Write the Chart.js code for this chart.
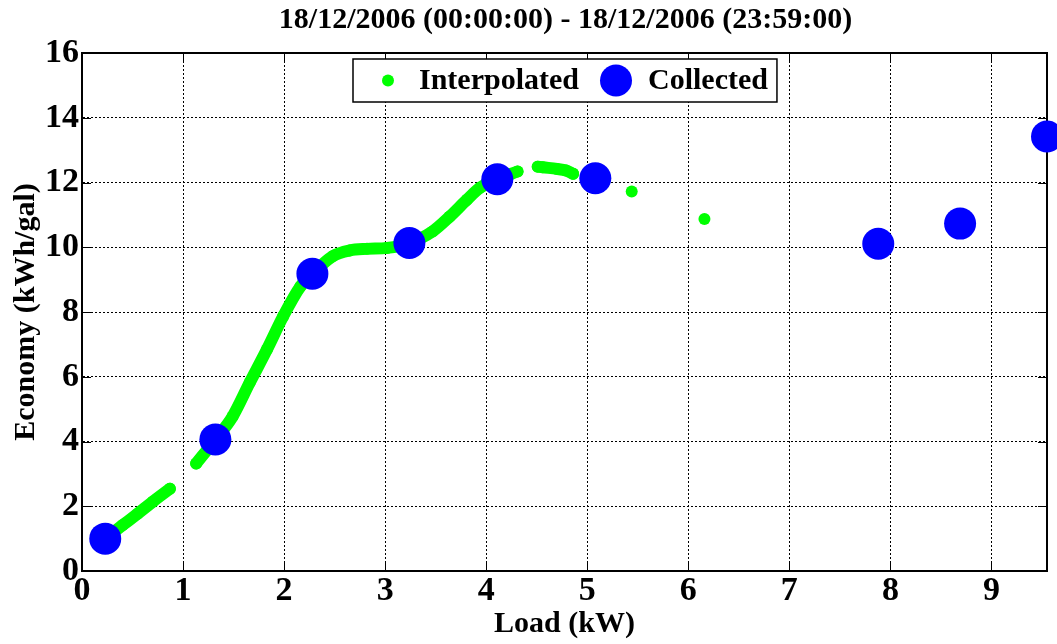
<!DOCTYPE html>
<html>
<head>
<meta charset="utf-8">
<title>Economy vs Load</title>
<script src="https://cdn.jsdelivr.net/npm/chart.js@4/dist/chart.umd.min.js"></script>
<style>
  html, body { margin:0; padding:0; background:#fff; }
  #wrap { width:1057px; height:644px; }
</style>
</head>
<body>
<div id="wrap"><canvas id="chart" width="1057" height="644"></canvas></div>
<script>
// Generator fuel economy against load, one day of data
const chartTitle = '18/12/2006 (00:00:00) - 18/12/2006 (23:59:00)';
const xLabel = 'Load (kW)';
const yLabel = 'Economy (kWh/gal)';

// collected samples (kW, kWh/gal)
const collectedLoad    = [0.23, 1.32, 2.28, 3.24, 4.11, 5.08, 7.88, 8.69, 9.55];
const collectedEconomy = [1.00, 4.06, 9.18, 10.13, 12.10, 12.13, 10.11, 10.73, 13.42];

// interpolated curve; a null economy breaks the curve
const interpLoad    = [0.23, 0.40, 0.55, 0.70, 0.87, 1.00, 1.13, 1.32, 1.49, 1.66, 1.83, 1.99, 2.16, 2.28,
                       2.48, 2.65, 2.82, 3.02, 3.24, 3.47, 3.64, 3.81, 3.94, 4.11, 4.31, 4.41,
                       4.51, 4.56, 4.70, 4.79, 4.86, 5.20, 5.44, 5.80, 6.16];
const interpEconomy = [1.00, 1.41, 1.77, 2.14, 2.54, null, 3.32, 4.06, 4.77, 5.82, 6.84, 7.86, 8.78, 9.18,
                       9.72, 9.90, 9.95, 9.98, 10.13, 10.49, 10.95, 11.47, 11.84, 12.10, 12.34, null,
                       12.49, 12.47, 12.42, 12.37, 12.27, null, 11.72, null, 10.87];

const xMax = 9.55, xStep = 1;
const yMax = 16, yStep = 2;

const FONT = "'Liberation Serif', 'Times New Roman', serif";
const GREEN = '#00ff00', BLUE = '#0000ff';

function pts(xs, ys){ return xs.map((x,i)=>({x:x, y:ys[i]})); }

/* ---------- box, inward ticks, legend, title ---------- */
const matlabFrame = {
  id: 'matlabFrame',
  beforeDatasetsDraw(chart){
    const {ctx, chartArea:a, scales:{x, y}} = chart;
    ctx.save();
    ctx.strokeStyle = '#000';
    ctx.lineWidth = 2;
    ctx.beginPath();
    ctx.moveTo(a.left, a.top); ctx.lineTo(a.right, a.top); ctx.lineTo(a.right, a.bottom);
    ctx.stroke();
    ctx.lineWidth = 1;
    const tl = 9;
    ctx.beginPath();
    x.ticks.forEach(t=>{
      const px = Math.round(x.getPixelForValue(t.value)) + 0.5;
      ctx.moveTo(px, a.bottom); ctx.lineTo(px, a.bottom - tl);
      ctx.moveTo(px, a.top); ctx.lineTo(px, a.top + tl);
    });
    y.ticks.forEach(t=>{
      const py = Math.round(y.getPixelForValue(t.value)) + 0.5;
      ctx.moveTo(a.left, py); ctx.lineTo(a.left + tl, py);
      ctx.moveTo(a.right, py); ctx.lineTo(a.right - tl, py);
    });
    ctx.stroke();
    ctx.restore();
  },
  afterDatasetsDraw(chart){
    const {ctx, chartArea:a} = chart;
    const ds = chart.data.datasets;
    ctx.save();
    ctx.font = 'bold 30px ' + FONT;
    const w = 295 + ctx.measureText(ds[1].label).width + 9;
    const h = 43;
    const left = Math.round((a.left + a.right)/2 - w/2);
    const top = a.top + 6;
    const cy = top + h/2;
    ctx.fillStyle = '#fff';
    ctx.fillRect(left, top, w, h);
    ctx.strokeStyle = '#000';
    ctx.lineWidth = 1.5;
    ctx.strokeRect(left, top, w, h);
    // markers
    ctx.fillStyle = ds[0].backgroundColor;
    ctx.beginPath(); ctx.arc(left + 35, cy, ds[0].pointRadius, 0, Math.PI*2); ctx.fill();
    ctx.fillStyle = ds[1].backgroundColor;
    ctx.beginPath(); ctx.arc(left + 263, cy, ds[1].pointRadius, 0, Math.PI*2); ctx.fill();
    // labels
    ctx.fillStyle = '#000';
    ctx.textBaseline = 'middle';
    ctx.textAlign = 'left';
    ctx.fillText(ds[0].label, left + 66, cy + 1);
    ctx.fillText(ds[1].label, left + 295, cy + 1);
    ctx.restore();
  },
  afterDraw(chart){
    const {ctx, chartArea:a} = chart;
    ctx.save();
    ctx.font = 'bold 30px ' + FONT;
    ctx.fillStyle = '#000';
    ctx.textAlign = 'center';
    ctx.textBaseline = 'middle';
    ctx.fillText(chartTitle, (a.left + a.right)/2 + 1, 20);
    ctx.restore();
  }
};

function axisOpts(max, step, title, titlePad){
  return {
    type: 'linear', min: 0, max: max,
    ticks: { stepSize: step, includeBounds: false, autoSkip: false, maxRotation: 0,
             color: '#000', padding: 3, font: { family: FONT, size: 34, weight: 'bold' } },
    grid: { color: '#000', lineWidth: 1, drawTicks: false },
    border: { display: true, color: '#000', width: 2, dash: [2, 2] },
    title: { display: true, text: title, color: '#000', padding: titlePad,
             font: { family: FONT, size: 30, weight: 'bold' } }
  };
}

const xScale = axisOpts(xMax, xStep, xLabel, { top: 0, bottom: 2 });
xScale.ticks.padding = 0;
xScale.afterFit = s => { s.height = 73; };
const yScale = axisOpts(yMax, yStep, yLabel, { top: 8, bottom: 0 });
yScale.afterFit = s => { s.width = 82; };

new Chart(document.getElementById('chart'), {
  type: 'scatter',
  data: {
    datasets: [
      {
        label: 'Interpolated',
        type: 'line',
        data: pts(interpLoad, interpEconomy),
        order: 1,
        borderColor: GREEN, backgroundColor: GREEN,
        borderWidth: 12, borderCapStyle: 'round', borderJoinStyle: 'round',
        cubicInterpolationMode: 'monotone', spanGaps: false,
        pointRadius: 6, pointBorderWidth: 0, pointBackgroundColor: GREEN,
        clip: false
      },
      {
        label: 'Collected',
        data: pts(collectedLoad, collectedEconomy),
        order: 0,
        backgroundColor: BLUE, borderColor: BLUE,
        pointRadius: 16, pointBorderWidth: 0,
        clip: false
      }
    ]
  },
  options: {
    responsive: false,
    devicePixelRatio: 1,
    animation: false,
    events: [],
    layout: { autoPadding: false, padding: { top: 53, right: 10, left: 0, bottom: 0 } },
    plugins: { legend: { display: false }, tooltip: { enabled: false }, title: { display: false } },
    scales: { x: xScale, y: yScale }
  },
  plugins: [matlabFrame]
});
</script>
</body>
</html>
